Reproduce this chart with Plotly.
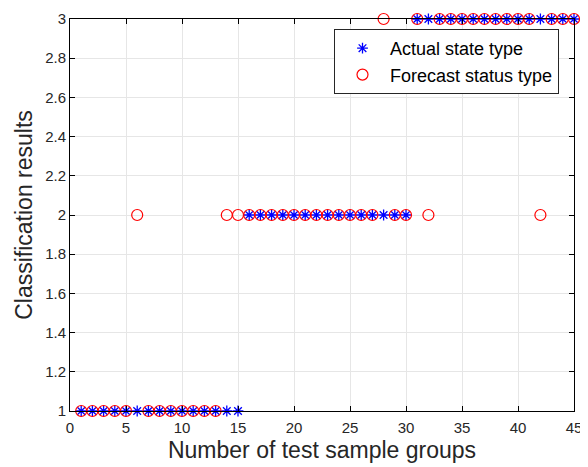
import plotly.graph_objects as go

samples = list(range(1, 46))
actual = [1]*15 + [2]*15 + [3]*15
forecast = [1,1,1,1,1,2,1,1,1,1,1,1,1,2,2,
            2,2,2,2,2,2,2,2,2,2,2,2,3,2,2,
            3,2,3,3,3,3,3,3,3,3,3,2,3,3,3]

fig = go.Figure()
fig.add_trace(go.Scatter(
    x=samples, y=actual, mode="markers", name="Actual state type",
    marker=dict(symbol="asterisk-open", size=9, color="blue",
                line=dict(color="blue", width=1.3)),
    cliponaxis=False))
fig.add_trace(go.Scatter(
    x=samples, y=forecast, mode="markers", name="Forecast status type",
    marker=dict(symbol="circle-open", size=11, color="red",
                line=dict(color="red", width=1.2)),
    cliponaxis=False))

font = "Liberation Sans, Arial, sans-serif"
axis_common = dict(showline=True, linecolor="black", linewidth=1, mirror="ticks",
                   ticks="inside", ticklen=5, tickcolor="black",
                   showgrid=True, gridcolor="#e6e6e6", gridwidth=1,
                   zeroline=False, automargin=False,
                   tickfont=dict(size=15, color="#262626", family=font))
fig.update_layout(
    width=580, height=459,
    margin=dict(l=62, r=14, t=11, b=56),
    plot_bgcolor="white", paper_bgcolor="white",
    font=dict(family=font, color="#262626"),
    xaxis=dict(range=[0, 45], tickvals=[0,5,10,15,20,25,30,35,40,45],
               ticklabelstandoff=3,
               title=dict(text="Number of test sample groups", font=dict(size=23), standoff=6),
               **axis_common),
    yaxis=dict(range=[1, 3], tickvals=[1,1.2,1.4,1.6,1.8,2,2.2,2.4,2.6,2.8,3],
               ticktext=["1","1.2","1.4","1.6","1.8","2","2.2","2.4","2.6","2.8","3"],
               title=dict(text="Classification results", font=dict(size=23), standoff=6),
               **axis_common),
    legend=dict(x=(334-70)/504, y=1-(29-19)/392, xanchor="left", yanchor="top",
                bgcolor="white", bordercolor="#262626", borderwidth=1,
                font=dict(size=18, color="black", family=font),
                itemwidth=45, tracegroupgap=0),
    showlegend=True,
)
fig.write_html("out.html")
